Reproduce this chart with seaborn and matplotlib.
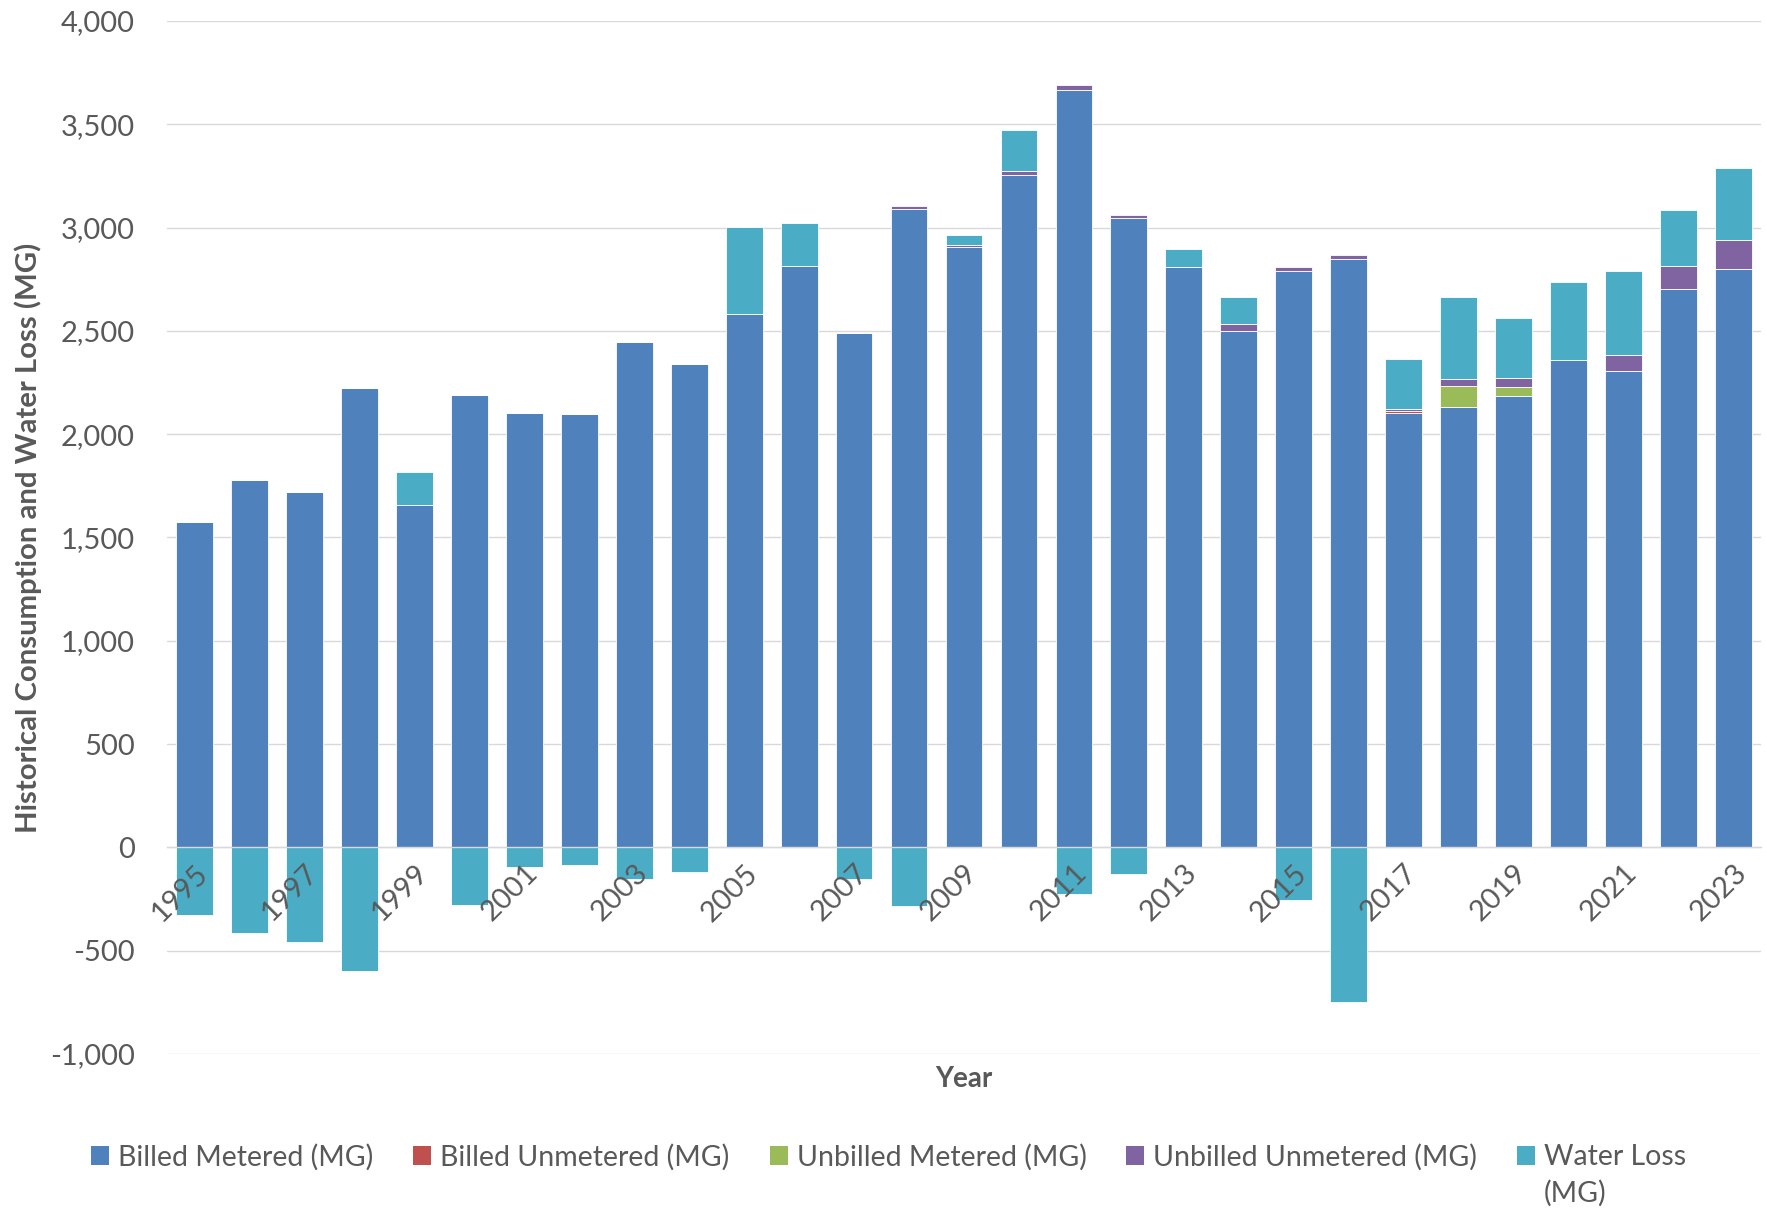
import numpy as np
import pandas as pd
import matplotlib
matplotlib.use("Agg")
import matplotlib.pyplot as plt
from matplotlib.ticker import FuncFormatter, MultipleLocator
from matplotlib.patches import Patch
import seaborn as sns

# Annual water balance components, million gallons (MG)
years = list(range(1995, 2024))
billed_metered = [1575, 1776, 1719, 2224, 1656, 2189, 2102, 2100, 2446, 2339,
                  2580, 2816, 2489, 3092, 2904, 3253, 3664, 3048, 2809, 2500,
                  2792, 2850, 2104, 2134, 2183, 2360, 2306, 2702, 2798]
billed_unmetered = [0, 0, 0, 0, 0, 0, 0, 0, 0, 0,
                    0, 0, 0, 0, 0, 0, 0, 0, 0, 0,
                    0, 0, 8, 0, 0, 0, 0, 0, 0]
unbilled_metered = [0, 0, 0, 0, 0, 0, 0, 0, 0, 0,
                    0, 0, 0, 0, 0, 0, 0, 0, 0, 0,
                    0, 0, 0, 100, 47, 0, 0, 0, 0]
unbilled_unmetered = [0, 0, 0, 0, 0, 0, 0, 0, 0, 0,
                      0, 0, 0, 13, 10, 19, 26, 11, 0, 32,
                      19, 18, 12, 33, 41, 0, 76, 113, 144]
water_loss = [-326, -415, -457, -600, 163, -280, -93, -87, -151, -121,
              422, 206, -153, -286, 48, 200, -225, -129, 87, 131,
              -257, -748, 239, 396, 292, 379, 409, 268, 348]

series_names = ["Billed Metered (MG)", "Billed Unmetered (MG)",
                "Unbilled Metered (MG)", "Unbilled Unmetered (MG)",
                "Water Loss (MG)"]
series_values = [billed_metered, billed_unmetered, unbilled_metered,
                 unbilled_unmetered, water_loss]
series_colors = ["#4F81BD", "#C0504D", "#9BBB59", "#8064A2", "#4BACC6"]

sns.set_theme(style="whitegrid")
plt.rcParams["font.family"] = ["Lato", "DejaVu Sans"]
text_color = "#595959"
grid_color = "#D9D9D9"

df = pd.DataFrame({"Year": [str(y) for y in years]})
for name, vals in zip(series_names, series_values):
    df[name] = vals

fig = plt.figure(figsize=(17.67, 12.14), dpi=100)
ax = fig.add_axes([0.0945, 0.1318, 0.9021, 0.8509])

# Stack positive parts upward from zero and negative parts downward
pos_base = np.zeros(len(years))
neg_base = np.zeros(len(years))
for name, color in zip(series_names, series_colors):
    vals = df[name].to_numpy(dtype=float)
    bottom = np.where(vals >= 0, pos_base, neg_base)
    sns.barplot(data=df, x="Year", y=name, order=df["Year"], color=color,
                saturation=1, width=0.67, bottom=bottom, errorbar=None,
                edgecolor="white", linewidth=0.6, ax=ax)
    pos_base += np.clip(vals, 0, None)
    neg_base += np.clip(vals, None, 0)

ax.set_xlim(-0.5, len(years) - 0.5)
ax.set_ylim(-1000, 4000)
ax.yaxis.set_major_locator(MultipleLocator(500))
ax.yaxis.set_major_formatter(FuncFormatter(lambda v, p: f"{v:,.0f}"))
ax.set_axisbelow(True)
ax.grid(axis="y", color=grid_color, linewidth=1.0)
ax.grid(axis="x", visible=False)
for side in ["top", "right", "left"]:
    ax.spines[side].set_visible(False)
ax.spines["bottom"].set_position(("data", 0))
ax.spines["bottom"].set_color(grid_color)
ax.spines["bottom"].set_linewidth(1.0)
ax.spines["bottom"].set_zorder(3)
# Year labels sit on the zero line, drawn over the bars
ax.xaxis.set_zorder(4)

ax.set_xticks(range(0, len(years), 2))
ax.set_xticklabels([str(y) for y in years[::2]], rotation=45, ha="right",
                   va="top", rotation_mode="anchor")
ax.tick_params(axis="x", length=0, pad=9, labelsize=21, labelcolor=text_color)
ax.tick_params(axis="y", length=0, pad=23, labelsize=21, labelcolor=text_color)

ax.set_xlabel("Year", fontsize=20, fontweight="bold", color=text_color)
ax.xaxis.set_label_coords(0.5, -0.0116)
ax.set_ylabel("Historical Consumption and Water Loss (MG)", fontsize=21.2,
              fontweight="bold", color=text_color)
ax.yaxis.set_label_coords(-0.0784, 0.5)

legend_size = 20.5
handles = [Patch(facecolor=c, edgecolor="none") for c in series_colors]
labels = series_names[:-1] + ["Water Loss"]
leg = fig.legend(handles, labels, loc="center", bbox_to_anchor=(0.503, 0.047),
                 ncol=5, frameon=False, fontsize=legend_size, handlelength=0.63,
                 handleheight=0.63, handletextpad=0.32, columnspacing=1.4,
                 borderpad=0, borderaxespad=0)
for t in leg.get_texts():
    t.set_color(text_color)

# Wrapped second line of the last legend label
fig.canvas.draw()
renderer = fig.canvas.get_renderer()
last = leg.get_texts()[-1]
bb = last.get_window_extent(renderer)
_, _, descent = renderer.get_text_width_height_descent(
    "lp", last.get_fontproperties(), ismath=False)
baseline = bb.y0 + descent
x0, y0 = fig.transFigure.inverted().transform((bb.x0, baseline - 36))
fig.text(x0, y0, "(MG)", fontsize=legend_size, color=text_color,
         ha="left", va="baseline")

fig.savefig("out.png", dpi=100)
